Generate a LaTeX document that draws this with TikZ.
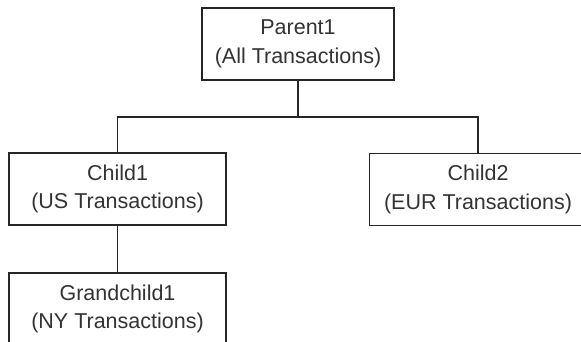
\documentclass[tikz,border=0pt]{standalone}
\usepackage{fontspec}
\setmainfont{Liberation Sans}
\begin{document}
\begin{tikzpicture}[x=1pt,y=-1pt,
  box/.style={draw=black!85, line width=1.4pt, fill=white, minimum width=217pt, minimum height=72pt,
    inner sep=0pt, align=center, text=black!80,
    font=\fontsize{21.5}{28.5}\selectfont},
  conn/.style={draw=black!85, line width=1.4pt}]
\useasboundingbox (0,0) rectangle (581,341);
\clip (0,0) rectangle (581,341);
\node[box, minimum width=192pt] (p) at (298,44) {Parent1\\(All Transactions)};
\node[box] (c1) at (117.5,189) {Child1\\(US Transactions)};
\node[box] (c2) at (478,189.5) {Child2\\(EUR Transactions)};
\node[box] (g) at (117.5,309) {Grandchild1\\(NY Transactions)};
\coordinate (j) at (298,117);
\draw[conn] (p.south) -- (j);
\draw[conn] (j) -| (c1.north);
\draw[conn] (j) -| (c2.north);
\draw[conn] (c1.south) -- (g.north);
\end{tikzpicture}
\end{document}
